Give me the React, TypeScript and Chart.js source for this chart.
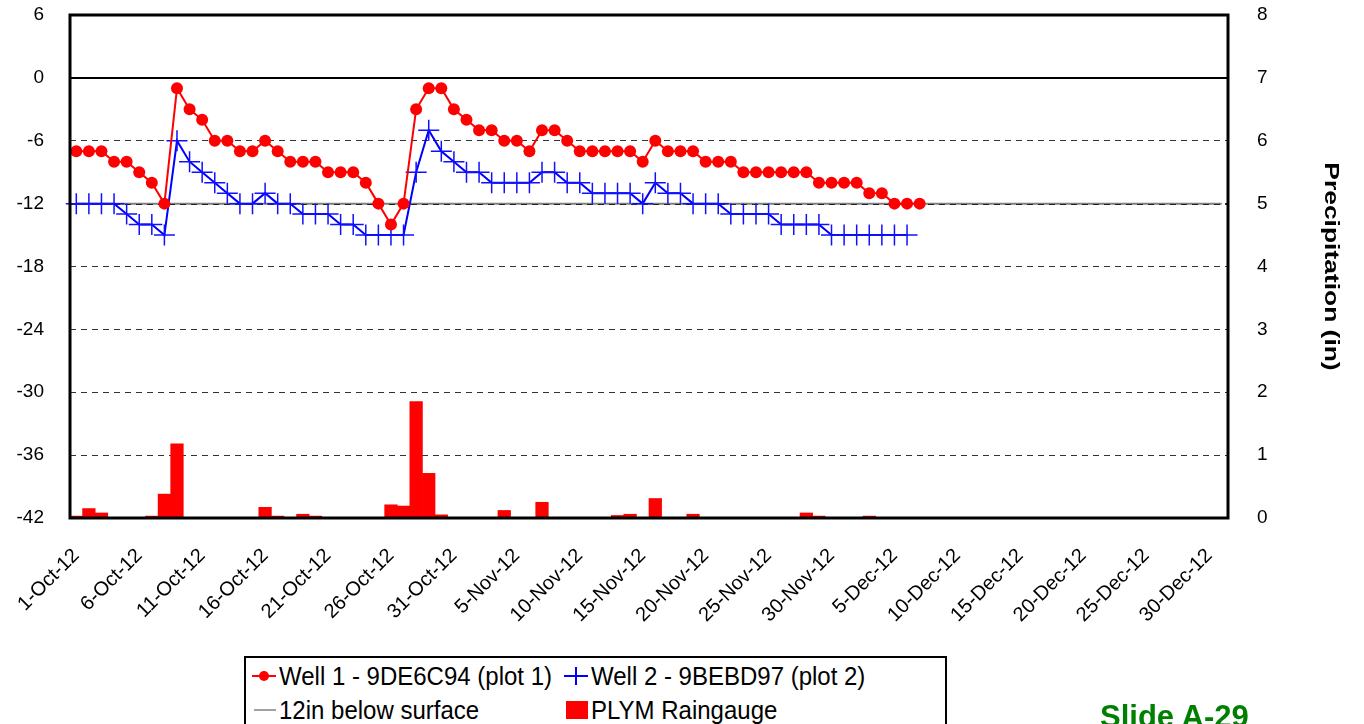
import React, { useEffect, useRef } from 'react';
import { Chart, registerables } from 'chart.js';

Chart.register(...registerables);

// ---- categories (daily, 1-Oct-12 .. 31-Dec-12) ----
const MONTHS = ['Oct', 'Nov', 'Dec'];
const MONTH_DAYS = [31, 30, 31];
const categories: string[] = [];
MONTHS.forEach((m, mi) => {
  for (let d = 1; d <= MONTH_DAYS[mi]; d++) categories.push(`${d}-${m}-12`);
});
const LABEL_EVERY = 5;

// ---- series ----
const well1 = [
  -7, -7, -7, -8, -8, -9, -10, -12, -1, -3, -4, -6, -6, -7, -7, -6, -7, -8, -8, -8, -9, -9, -9, -10, -12, -14, -12, -3, -1, -1, -3,
  -4, -5, -5, -6, -6, -7, -5, -5, -6, -7, -7, -7, -7, -7, -8, -6, -7, -7, -7, -8, -8, -8, -9, -9, -9, -9, -9, -9, -10, -10, -10, -10, -11, -11, -12, -12, -12,
];
const well2 = [
  -12, -12, -12, -12, -13, -14, -14, -15, -6, -8, -9, -10, -11, -12, -12, -11, -12, -12, -13, -13, -13, -14, -14, -15, -15, -15, -15, -9, -5, -7, -8,
  -9, -9, -10, -10, -10, -10, -9, -9, -10, -10, -11, -11, -11, -11, -12, -10, -11, -11, -12, -12, -12, -13, -13, -13, -13, -14, -14, -14, -14, -15, -15, -15, -15, -15, -15, -15,
];
const surface12 = [
  -12, -12, -12, -12, -12, -12, -12, -12, -12, -12, -12, -12, -12, -12, -12, -12, -12, -12, -12, -12, -12, -12, -12, -12, -12, -12, -12, -12, -12, -12, -12,
  -12, -12, -12, -12, -12, -12, -12, -12, -12, -12, -12, -12, -12, -12, -12, -12, -12, -12, -12, -12, -12, -12, -12, -12, -12, -12, -12, -12, -12, -12,
  -12, -12, -12, -12, -12, -12, -12, -12, -12, -12, -12, -12, -12, -12, -12, -12, -12, -12, -12, -12, -12, -12, -12, -12, -12, -12, -12, -12, -12, -12, -12,
];
const rain = [
  0.03, 0.15, 0.08, 0, 0, 0, 0.03, 0.38, 1.18, 0, 0, 0, 0, 0, 0, 0.17, 0.03, 0, 0.06, 0.03, 0, 0, 0, 0, 0, 0.21, 0.19, 1.85, 0.71, 0.05, 0,
  0, 0, 0, 0.12, 0, 0, 0.25, 0, 0, 0, 0, 0, 0.04, 0.06, 0, 0.31, 0, 0, 0.06, 0, 0, 0, 0, 0, 0, 0, 0, 0.08, 0.03, 0,
  0, 0, 0.03, 0, 0, 0, 0,
];

// ---- axes ----
const LEFT_MIN = -42;
const LEFT_MAX = 6;
const LEFT_STEP = 6;
const RIGHT_MIN = 0;
const RIGHT_MAX = 8;
const RIGHT_STEP = 1;
const RIGHT_TITLE = 'Precipitation (in)';

const FONT = '"Liberation Sans", Arial, sans-serif';

const framePlugin = {
  id: 'frame',
  afterDatasetDraw(chart: any, args: any) {
    if (args.index !== 2) return;
    const { ctx, chartArea } = chart;
    const y = Math.round(chart.scales.y.getPixelForValue(-12)) + 0.5;
    ctx.save();
    ctx.strokeStyle = '#222';
    ctx.lineWidth = 1;
    ctx.setLineDash([6, 5]);
    ctx.beginPath();
    ctx.moveTo(chartArea.left, y);
    ctx.lineTo(chartArea.right, y);
    ctx.stroke();
    ctx.restore();
  },
  afterDatasetsDraw(chart: any) {
    const { ctx, chartArea } = chart;
    const y0 = chart.scales.y.getPixelForValue(0);
    ctx.save();
    ctx.strokeStyle = '#000';
    ctx.lineWidth = 2;
    ctx.beginPath();
    ctx.moveTo(chartArea.left, y0);
    ctx.lineTo(chartArea.right, y0);
    ctx.stroke();
    ctx.lineWidth = 3;
    ctx.strokeRect(chartArea.left, chartArea.top, chartArea.right - chartArea.left, chartArea.bottom - chartArea.top);
    // right axis title
    ctx.fillStyle = '#000';
    ctx.font = `bold 20px ${FONT}`;
    ctx.textAlign = 'center';
    ctx.textBaseline = 'middle';
    ctx.translate(1331, (chartArea.top + chartArea.bottom) / 2);
    ctx.rotate(Math.PI / 2);
    ctx.scale(1.32, 1);
    ctx.fillText(RIGHT_TITLE, 0, 0);
    ctx.restore();
  },
};

function Marker({ kind }: { kind: string }) {
  if (kind === 'well1')
    return (
      <svg width="26" height="20" style={{ display: 'block' }}>
        <line x1="1" y1="10" x2="25" y2="10" stroke="#f00" strokeWidth="2" />
        <circle cx="13" cy="10" r="5" fill="#f00" />
      </svg>
    );
  if (kind === 'well2')
    return (
      <svg width="26" height="20" style={{ display: 'block' }}>
        <line x1="1" y1="10" x2="25" y2="10" stroke="#00f" strokeWidth="2" />
        <line x1="13" y1="1" x2="13" y2="19" stroke="#00f" strokeWidth="2" />
      </svg>
    );
  if (kind === 'surface')
    return (
      <svg width="26" height="20" style={{ display: 'block' }}>
        <line x1="3" y1="10" x2="25" y2="10" stroke="#444" strokeWidth="1" />
      </svg>
    );
  return (
    <svg width="26" height="20" style={{ display: 'block' }}>
      <rect x="3" y="1" width="22" height="18" fill="#f00" />
    </svg>
  );
}

function LegendItem({ kind, text, left, top }: { kind: string; text: string; left: number; top: number }) {
  return (
    <div style={{ position: 'absolute', left, top, display: 'flex', alignItems: 'center', height: 28 }}>
      <Marker kind={kind} />
      <span style={{ marginLeft: 2, fontSize: 24, lineHeight: '28px', whiteSpace: 'nowrap', transform: 'scaleY(1.08)' }}>{text}</span>
    </div>
  );
}

export default function App() {
  const ref = useRef<HTMLCanvasElement>(null);

  useEffect(() => {
    if (!ref.current) return;
    const chart = new Chart(ref.current, {
      type: 'line',
      data: {
        labels: categories,
        datasets: [
          {
            label: 'Well 1 - 9DE6C94 (plot 1)',
            data: well1,
            borderColor: '#ff0000',
            backgroundColor: '#ff0000',
            borderWidth: 2,
            pointStyle: 'circle',
            pointRadius: 6,
            pointBorderWidth: 0,
            pointBackgroundColor: '#ff0000',
            yAxisID: 'y',
            order: 0,
          } as any,
          {
            label: 'Well 2 - 9BEBD97 (plot 2)',
            data: well2,
            borderColor: '#0000ff',
            backgroundColor: '#0000ff',
            borderWidth: 2,
            pointStyle: 'cross',
            pointRadius: 10.5,
            pointBorderWidth: 1.5,
            pointBorderColor: '#1010ff',
            yAxisID: 'y',
            order: 1,
          },
          {
            label: '12in below surface',
            data: surface12,
            borderColor: '#7f7f7f',
            borderWidth: 2,
            pointRadius: 0,
            yAxisID: 'y',
            order: 2,
          },
          {
            type: 'bar',
            label: 'PLYM Raingauge',
            data: rain,
            backgroundColor: '#ff0000',
            borderWidth: 0,
            barPercentage: 1,
            categoryPercentage: 1,
            yAxisID: 'y1',
            order: 3,
          } as any,
        ],
      },
      options: {
        animation: false,
        responsive: false,
        maintainAspectRatio: false,
        layout: { padding: { top: 15, left: 0, right: 0, bottom: 0 } },
        plugins: { legend: { display: false }, tooltip: { enabled: false }, title: { display: false } },
        scales: {
          x: {
            type: 'category',
            offset: true,
            grid: { display: false },
            border: { display: false },
            ticks: {
              autoSkip: false,
              maxRotation: 45,
              minRotation: 45,
              padding: 18,
              color: '#000',
              font: { family: FONT, size: 20 },
              callback: (_v: any, i: number) => (i % LABEL_EVERY === 0 ? categories[i] : ''),
            },
            afterFit: (s: any) => {
              s.height = 724 - 518;
            },
          },
          y: {
            position: 'left',
            min: LEFT_MIN,
            max: LEFT_MAX,
            ticks: { stepSize: LEFT_STEP, padding: 0, color: '#000', font: { family: FONT, size: 19 } },
            grid: { color: '#333', lineWidth: 1, drawTicks: true, tickLength: 26, tickColor: 'rgba(0,0,0,0)' },
            border: { display: false, dash: [6, 5] },
            afterFit: (s: any) => {
              s.width = 70;
            },
          },
          y1: {
            position: 'right',
            min: RIGHT_MIN,
            max: RIGHT_MAX,
            ticks: { stepSize: RIGHT_STEP, padding: 0, color: '#000', font: { family: FONT, size: 19 } },
            grid: { display: true, drawOnChartArea: false, drawTicks: true, tickLength: 29, tickColor: 'rgba(0,0,0,0)' },
            border: { display: false },
            afterFit: (s: any) => {
              s.width = 1364 - 1228;
            },
          },
        },
      },
      plugins: [framePlugin],
    });
    return () => chart.destroy();
  }, []);

  return (
    <div style={{ position: 'absolute', left: 0, top: 0, width: 1364, height: 724, overflow: 'hidden', background: '#fff', fontFamily: FONT }}>
      <canvas ref={ref} width={1364} height={724} style={{ position: 'absolute', left: 0, top: 0, width: 1364, height: 724 }} />
      <div
        style={{
          position: 'absolute',
          left: 244,
          top: 656,
          width: 703,
          height: 90,
          border: '2px solid #000',
          boxSizing: 'border-box',
          background: '#fff',
        }}
      >
        <LegendItem kind="well1" text="Well 1 - 9DE6C94 (plot 1)" left={5} top={4} />
        <LegendItem kind="well2" text="Well 2 - 9BEBD97 (plot 2)" left={317} top={4} />
        <LegendItem kind="surface" text="12in below surface" left={5} top={38} />
        <LegendItem kind="rain" text="PLYM Raingauge" left={317} top={38} />
      </div>
      <div
        style={{
          position: 'absolute',
          left: 1100,
          top: 701,
          fontSize: 31,
          lineHeight: '31px',
          fontWeight: 'bold',
          color: '#008000',
          whiteSpace: 'nowrap',
        }}
      >
        Slide A-29
      </div>
    </div>
  );
}
